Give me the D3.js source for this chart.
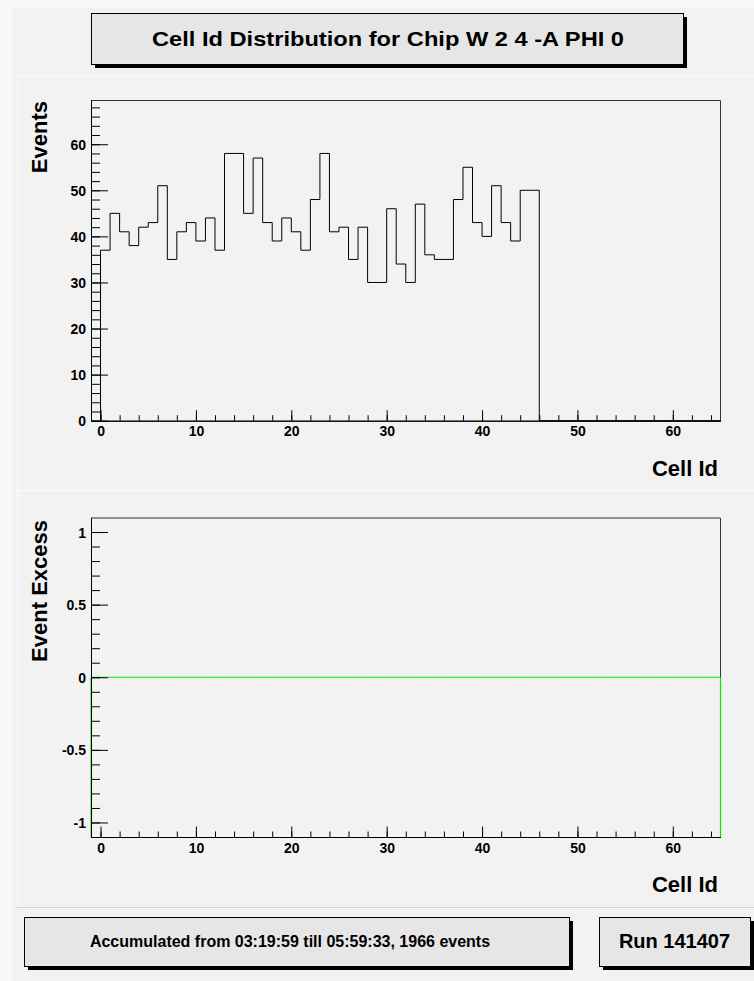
<!DOCTYPE html>
<html>
<head>
<meta charset="utf-8">
<script src="https://cdn.jsdelivr.net/npm/d3@7"></script>
<style>
html,body{margin:0;padding:0;background:#f2f2f2;}
svg{display:block;}
text{font-family:"Liberation Sans",Arial,Helvetica,sans-serif;font-weight:bold;fill:#000;}
</style>
</head>
<body>
<svg id="c" width="754" height="981"></svg>
<script>
// ---------------- data ----------------
const titleText = "Cell Id Distribution for Chip W 2 4 -A PHI 0";
const footerText = "Accumulated from 03:19:59 till 05:59:33, 1966 events";
const runText = "Run 141407";
const xTitle = "Cell Id";
const yTitleTop = "Events";
const yTitleBottom = "Event Excess";

// bins 0..64 (width 1), counts per cell id
const cellCounts = [37,45,41,38,42,43,51,35,41,43,
                    39,44,37,58,58,45,57,43,39,44,
                    41,37,48,58,41,42,35,42,30,30,
                    46,34,30,47,36,35,35,48,55,43,
                    40,51,43,39,50,50,0,0,0,0,
                    0,0,0,0,0,0,0,0,0,0,
                    0,0,0,0,0];
const countsFirstEdge = 0;
// bins -1..64 (width 1), event excess per cell id
const excessValues = [0,0,0,0,0,0,0,0,0,0,0,
                      0,0,0,0,0,0,0,0,0,0,
                      0,0,0,0,0,0,0,0,0,0,
                      0,0,0,0,0,0,0,0,0,0,
                      0,0,0,0,0,0,0,0,0,0,
                      0,0,0,0,0,0,0,0,0,0,
                      0,0,0,0,0];
const excessFirstEdge = -1;

const xDomain = [-1, 65];
const xTickLabels = [0,10,20,30,40,50,60];
const xMinorTicks = [0,2,4,6,8,10,12,14,16,18,20,22,24,26,28,30,32,34,36,38,40,42,44,46,48,50,52,54,56,58,60,62,64];
const yTopDomain = [0, 69.6];
const yTopTickLabels = [0,10,20,30,40,50,60];
const yTopMinorTicks = [0,2,4,6,8,10,12,14,16,18,20,22,24,26,28,30,32,34,36,38,40,42,44,46,48,50,52,54,56,58,60,62,64,66,68];
const yBotDomain = [-1.1, 1.1];
const yBotTickLabels = [-1,-0.5,0,0.5,1];
const yBotMinorTicks = [-1,-0.9,-0.8,-0.7,-0.6,-0.5,-0.4,-0.3,-0.2,-0.1,0,0.1,0.2,0.3,0.4,0.5,0.6,0.7,0.8,0.9,1];

// ---------------- drawing ----------------
const svg = d3.select("#c");
const W = 754, H = 981;

// canvas & pads
svg.append("rect").attr("x",0).attr("y",0).attr("width",W).attr("height",H).attr("fill","#f8f8f8");
svg.append("rect").attr("x",10).attr("y",6).attr("width",W-10).attr("height",H-6).attr("fill","#f2f2f2");
const padLine = (x1,y1,x2,y2,c) => svg.append("line").attr("x1",x1).attr("y1",y1).attr("x2",x2).attr("y2",y2)
  .attr("stroke",c).attr("stroke-width",1);
padLine(10,6.5,W,6.5,"#fbfbfb");
padLine(10.5,6,10.5,H,"#fbfbfb");
padLine(17,75.5,W,75.5,"#fcfcfc");
padLine(17.5,75,17.5,907,"#fcfcfc");
padLine(17,490.5,W,490.5,"#fcfcfc");
padLine(16,907.5,W,907.5,"#d2d2d2");

// box helper (ROOT pave with shadow)
function pave(x,y,w,h){
  svg.append("rect").attr("x",x+4).attr("y",y+4).attr("width",w).attr("height",h).attr("fill","#000");
  svg.append("rect").attr("x",x+0.5).attr("y",y+0.5).attr("width",w).attr("height",h)
     .attr("fill","#e6e6e6").attr("stroke","#000").attr("stroke-width",1);
}
pave(91,13,592,51);
svg.append("text").attr("x",388).attr("y",46).attr("text-anchor","middle").attr("font-size",21)
  .attr("textLength",472).attr("lengthAdjust","spacingAndGlyphs").text(titleText);
pave(24,917,545,49);
svg.append("text").attr("x",290).attr("y",947).attr("text-anchor","middle").attr("font-size",16).text(footerText);
pave(599,917,151,49);
svg.append("text").attr("x",674.5).attr("y",948).attr("text-anchor","middle").attr("font-size",20).text(runText);

const x = d3.scaleLinear().domain(xDomain).range([91, 720.5]);

function histPath(values, firstEdge, y){
  const y0 = y.domain()[0];
  const pts = [[firstEdge, y0]];
  values.forEach((v,i)=>{ pts.push([firstEdge+i, v]); pts.push([firstEdge+i+1, v]); });
  pts.push([firstEdge+values.length, y0]);
  return d3.line().x(d=>x(d[0])).y(d=>y(d[1]))(pts);
}

function frame(y, yLabels, yMinor, fmt){
  const [top, bottom] = [y.range()[1], y.range()[0]];
  const left = x.range()[0], right = x.range()[1];
  // frame top/right
  svg.append("path").attr("d",`M${left},${top+0.5}H${right}V${bottom}`).attr("fill","none")
    .attr("stroke","#333").attr("stroke-width",1);
  // x axis
  const gx = svg.append("g").attr("transform",`translate(0,${bottom})`);
  gx.append("g").call(d3.axisBottom(x).tickValues(xMinorTicks).tickSizeInner(-5.5).tickSizeOuter(0).tickFormat(""));
  const gxm = gx.append("g").call(d3.axisBottom(x).tickValues(xTickLabels).tickSizeInner(-10.5).tickSizeOuter(0).tickFormat(d=>String(d)));
  gxm.selectAll("text").attr("y",15.5).attr("dy",null).attr("font-size",14).style("fill","#000");
  gx.selectAll("path.domain").attr("stroke","#000");
  gx.selectAll(".tick line").attr("stroke","#000");
  gx.selectAll("g").attr("font-family",null).attr("font-size",null);
  // y axis
  const gy = svg.append("g").attr("transform",`translate(${left},0)`);
  gy.append("g").call(d3.axisLeft(y).tickValues(yMinor).tickSizeInner(-9).tickSizeOuter(0).tickFormat(""));
  const gym = gy.append("g").call(d3.axisLeft(y).tickValues(yLabels).tickSizeInner(-17).tickSizeOuter(0).tickPadding(5).tickFormat(fmt));
  gym.selectAll("text").attr("dy","0.36em").attr("font-size",14).style("fill","#000");
  gy.selectAll("path.domain").attr("stroke","#000");
  gy.selectAll(".tick line").attr("stroke","#000");
  gy.selectAll("g").attr("font-family",null).attr("font-size",null);
}

// ---- top pad ----
const yTop = d3.scaleLinear().domain(yTopDomain).range([420.7, 100]);
frame(yTop, yTopTickLabels, yTopMinorTicks, d=>String(d));
svg.append("path").attr("d", histPath(cellCounts, countsFirstEdge, yTop))
  .attr("fill","none").attr("stroke","#000").attr("stroke-width",1);
svg.append("text").attr("x",718).attr("y",476).attr("text-anchor","end").attr("font-size",22).text(xTitle);
svg.append("text").attr("transform","translate(47,101) rotate(-90)").attr("text-anchor","end").attr("font-size",22).text(yTitleTop);

// ---- bottom pad ----
const yBot = d3.scaleLinear().domain(yBotDomain).range([837, 517.5]);
svg.append("path").attr("d", histPath(excessValues, excessFirstEdge, yBot))
  .attr("fill","none").attr("stroke","#00e600").attr("stroke-width",1);
frame(yBot, yBotTickLabels, yBotMinorTicks, d=>String(d));
svg.append("path").attr("d", `M${x(65)},${yBot(0)}V${yBot(-1.1)}`).attr("stroke","#00e600").attr("stroke-width",1.2);
svg.append("text").attr("x",718).attr("y",892).attr("text-anchor","end").attr("font-size",22).text(xTitle);
svg.append("text").attr("transform","translate(47,520) rotate(-90)").attr("text-anchor","end").attr("font-size",22).text(yTitleBottom);
</script>
</body>
</html>
